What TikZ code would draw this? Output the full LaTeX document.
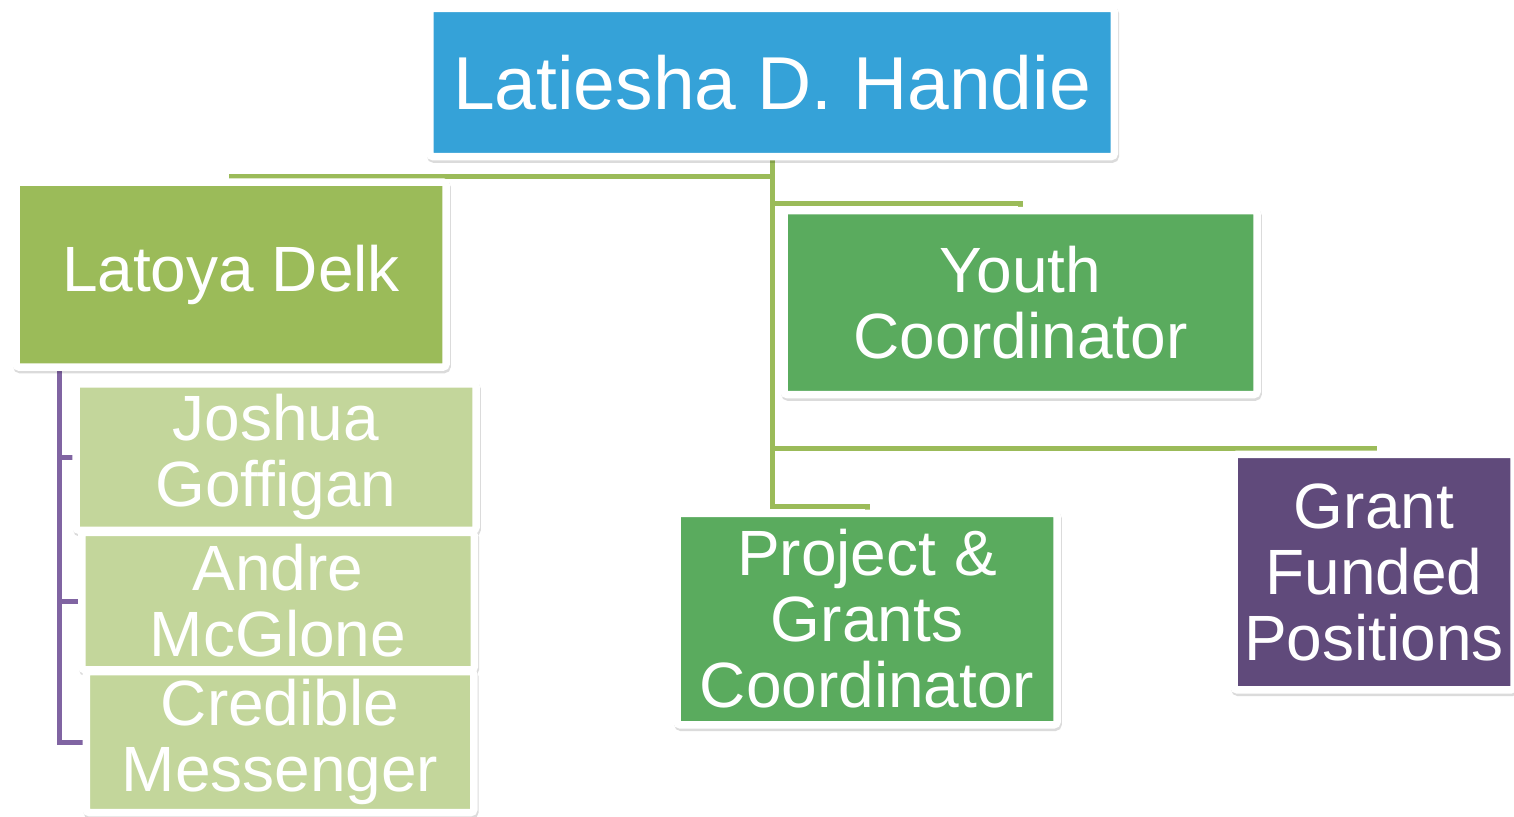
\documentclass[tikz,border=0pt]{standalone}
\usepackage{fontspec}
\setmainfont{Liberation Sans}
\definecolor{topblue}{HTML}{35A2D8}
\definecolor{leadgreen}{HTML}{9BBB59}
\definecolor{midgreen}{HTML}{5AAB5E}
\definecolor{lightgreen}{HTML}{C3D69B}
\definecolor{darkpurple}{HTML}{604A7B}
\definecolor{linegreen}{HTML}{9BBB59}
\definecolor{linepurple}{HTML}{8064A2}
\tikzset{
  orgbox/.style={draw=white, line width=7.5pt, inner sep=0pt, align=center, text=white,
    rounded corners=3pt,
    font=\fontsize{64}{66}\selectfont,
    preaction={draw=black, draw opacity=0.14, line width=7.5pt,
      transform canvas={xshift=1pt, yshift=-2.5pt}}},
  gline/.style={draw=linegreen, line width=5pt},
  pline/.style={draw=linepurple, line width=5pt},
}
\begin{document}
\begin{tikzpicture}[x=1pt, y=-1pt]
\useasboundingbox (0,0) rectangle (1514,816);
\path
  (772,82.5) coordinate (ctop)
  (231,274.5) coordinate (clat)
  (1020.5,302.5) coordinate (cyouth)
  (867,619) coordinate (cproj)
  (1374,572) coordinate (cgrant)
  (276,457) coordinate (cjosh)
  (278,601) coordinate (candre)
  (280,742) coordinate (ccred);
% placeholders giving anchors for the connectors
\begin{scope}[every node/.style={inner sep=0pt}]
\node[minimum width=684.5pt, minimum height=148pt] (top) at (ctop) {};
\node[minimum width=430pt, minimum height=185pt] (latoya) at (clat) {};
\node[minimum width=473pt, minimum height=184pt] (youth) at (cyouth) {};
\node[minimum width=380pt, minimum height=211.5pt] (project) at (cproj) {};
\node[minimum width=280pt, minimum height=235.5pt] (grant) at (cgrant) {};
\node[minimum width=400pt, minimum height=146.5pt] (joshua) at (cjosh) {};
\node[minimum width=392.5pt, minimum height=137.5pt] (andre) at (candre) {};
\node[minimum width=387.5pt, minimum height=141pt] (credible) at (ccred) {};
\end{scope}
% connectors
\draw[gline] (top.south) -- ++(0,19.5) -| (latoya.north);
\draw[gline] (top.south) -- ++(0,46.5) -| (youth.north);
\draw[gline] (top.south) -- ++(0,291.5) -| (grant.north);
\draw[gline] (top.south) -- ++(0,349.5) -| (project.north);
\coordinate (pv) at (59,367);
\draw[pline] (pv) |- (joshua.west);
\draw[pline] (pv) |- (andre.west);
\draw[pline] (pv) |- (credible.west);
% boxes
\node[orgbox, fill=topblue, minimum width=684.5pt, minimum height=148pt, font=\fontsize{75}{80}\selectfont] at (ctop) {Latiesha D. Handie};
\node[orgbox, fill=leadgreen, minimum width=430pt, minimum height=185pt, font=\fontsize{64}{66}\selectfont] at (clat) {Latoya Delk};
\node[orgbox, fill=midgreen, minimum width=473pt, minimum height=184pt] at (cyouth) {Youth\\Coordinator};
\node[orgbox, fill=midgreen, minimum width=380pt, minimum height=211.5pt] at (cproj) {Project \&\\Grants\\Coordinator};
\node[orgbox, fill=darkpurple, minimum width=280pt, minimum height=235.5pt] at (cgrant) {Grant\\Funded\\Positions};
\node[orgbox, fill=lightgreen, minimum width=400pt, minimum height=146.5pt] at (cjosh) {Joshua\\Goffigan};
\node[orgbox, fill=lightgreen, minimum width=392.5pt, minimum height=137.5pt] at (candre) {Andre\\McGlone};
\node[orgbox, fill=lightgreen, minimum width=387.5pt, minimum height=141pt] at (ccred) {Credible\\Messenger};
\end{tikzpicture}
\end{document}
